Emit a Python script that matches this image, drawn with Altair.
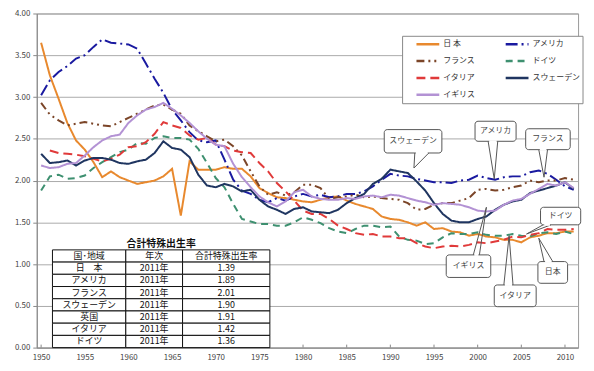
import altair as alt
import pandas as pd

FONT = "Noto Sans CJK JP"

years = list(range(1950, 2012))

japan = [3.65, 3.26, 2.98, 2.69, 2.48, 2.37, 2.22, 2.04, 2.11, 2.04,
         2.00, 1.96, 1.98, 2.00, 2.05, 2.14, 1.58, 2.23, 2.13, 2.13,
         2.13, 2.16, 2.14, 2.14, 2.05, 1.91, 1.85, 1.80, 1.79, 1.77,
         1.75, 1.74, 1.77, 1.80, 1.81, 1.76, 1.72, 1.69, 1.66, 1.57,
         1.54, 1.53, 1.50, 1.46, 1.50, 1.42, 1.43, 1.39, 1.38, 1.34,
         1.36, 1.33, 1.32, 1.29, 1.29, 1.26, 1.32, 1.34, 1.37, 1.37,
         1.39, 1.39]
usa = [3.02, 3.20, 3.30, 3.37, 3.46, 3.50, 3.60, 3.69, 3.65, 3.64,
       3.63, 3.58, 3.40, 3.22, 3.05, 2.85, 2.72, 2.58, 2.48, 2.46,
       2.48, 2.25, 2.01, 1.88, 1.84, 1.77, 1.74, 1.79, 1.76, 1.81,
       1.84, 1.81, 1.83, 1.80, 1.81, 1.84, 1.84, 1.87, 1.93, 2.01,
       2.08, 2.06, 2.05, 2.02, 2.00, 1.98, 1.98, 1.97, 2.00, 2.01,
       2.06, 2.03, 2.01, 2.04, 2.05, 2.05, 2.10, 2.12, 2.08, 2.01,
       1.93, 1.89]
france = [2.93, 2.79, 2.72, 2.66, 2.68, 2.70, 2.68, 2.66, 2.65, 2.70,
          2.75, 2.80, 2.85, 2.90, 2.91, 2.85, 2.80, 2.66, 2.59, 2.53,
          2.47, 2.49, 2.41, 2.30, 2.11, 1.93, 1.83, 1.86, 1.82, 1.86,
          1.95, 1.95, 1.91, 1.78, 1.80, 1.81, 1.83, 1.80, 1.81, 1.79,
          1.78, 1.77, 1.73, 1.65, 1.66, 1.71, 1.73, 1.73, 1.76, 1.79,
          1.89, 1.90, 1.88, 1.89, 1.92, 1.94, 2.00, 1.98, 2.00, 2.00,
          2.03, 2.01]
germany = [1.88, 2.05, 2.07, 2.02, 2.03, 2.06, 2.15, 2.22, 2.28, 2.34,
           2.37, 2.45, 2.44, 2.51, 2.53, 2.51, 2.51, 2.49, 2.38, 2.21,
           2.03, 1.92, 1.72, 1.54, 1.51, 1.48, 1.48, 1.46, 1.46, 1.50,
           1.56, 1.53, 1.49, 1.43, 1.39, 1.37, 1.42, 1.46, 1.46, 1.44,
           1.45, 1.33, 1.29, 1.28, 1.24, 1.25, 1.32, 1.37, 1.36, 1.36,
           1.38, 1.35, 1.34, 1.34, 1.36, 1.34, 1.33, 1.37, 1.38, 1.36,
           1.39, 1.36]
italy = [None, 2.36, 2.33, 2.32, 2.31, 2.29, 2.26, 2.23, 2.26, 2.31,
         2.40, 2.41, 2.46, 2.56, 2.70, 2.66, 2.63, 2.54, 2.49, 2.51,
         2.43, 2.41, 2.36, 2.34, 2.33, 2.21, 2.11, 1.97, 1.87, 1.76,
         1.64, 1.60, 1.60, 1.54, 1.46, 1.42, 1.37, 1.35, 1.36, 1.33,
         1.33, 1.31, 1.31, 1.25, 1.21, 1.19, 1.21, 1.22, 1.21, 1.23,
         1.26, 1.25, 1.27, 1.29, 1.33, 1.32, 1.35, 1.37, 1.42, 1.41,
         1.41, 1.42]
sweden = [2.32, 2.21, 2.22, 2.24, 2.18, 2.24, 2.27, 2.27, 2.25, 2.21,
          2.20, 2.23, 2.25, 2.33, 2.47, 2.39, 2.37, 2.28, 2.07, 1.94,
          1.92, 1.96, 1.93, 1.87, 1.89, 1.77, 1.69, 1.65, 1.60, 1.66,
          1.68, 1.63, 1.62, 1.61, 1.65, 1.73, 1.79, 1.84, 1.96, 2.02,
          2.13, 2.11, 2.09, 1.99, 1.88, 1.73, 1.60, 1.52, 1.50, 1.50,
          1.54, 1.57, 1.65, 1.71, 1.75, 1.77, 1.85, 1.88, 1.91, 1.94,
          1.98, 1.90]
uk = [2.18, 2.15, 2.16, 2.20, 2.21, 2.30, 2.40, 2.48, 2.53, 2.55,
      2.69, 2.78, 2.85, 2.88, 2.93, 2.86, 2.78, 2.69, 2.59, 2.50,
      2.43, 2.41, 2.20, 2.04, 1.92, 1.81, 1.74, 1.69, 1.75, 1.86,
      1.89, 1.81, 1.78, 1.77, 1.77, 1.79, 1.78, 1.81, 1.82, 1.80,
      1.83, 1.82, 1.79, 1.76, 1.74, 1.71, 1.73, 1.72, 1.71, 1.68,
      1.64, 1.63, 1.64, 1.71, 1.76, 1.78, 1.84, 1.90, 1.96, 1.94,
      1.98, 1.91]

series_names = ["日 本", "アメリカ", "フランス", "ドイツ", "イタリア", "スウェーデン", "イギリス"]
series_values = [japan, usa, france, germany, italy, sweden, uk]
series_colors = ["#E8892E", "#1A1AA0", "#7B4528", "#3E9070", "#E03A3A", "#1F3560", "#B392D4"]
series_dashes = [[1, 0], [12, 4, 2, 4], [8, 4, 2, 4, 2, 4], [7, 5], [9, 5], [1, 0], [1, 0]]

x_tick_years = list(range(1950, 2011, 5))
y_tick_values = [i * 0.5 for i in range(9)]

# table contents
table_title = "合計特殊出生率"
table_header = ["国･地域", "年次", "合計特殊出生率"]
table_regions = ["日　本", "アメリカ", "フランス", "スウェーデン", "英国", "イタリア", "ドイツ"]
table_years = ["2011年"] * 7
table_rates = ["1.39", "1.89", "2.01", "1.90", "1.91", "1.42", "1.36"]

# callout labels
callout_labels = ["スウェーデン", "アメリカ", "フランス", "イギリス", "イタリア", "日本", "ドイツ"]

# ---- layout ----
W, H = 546, 337
XDOM = (1949.5, 2011.5)
YDOM = (0.0, 4.0)


def px_x(px):
    """plot-area pixel (from left) -> year on the x scale"""
    return XDOM[0] + px / W * (XDOM[1] - XDOM[0])


def px_y(py):
    """plot-area pixel (from top) -> value on the y scale"""
    return YDOM[1] - py / H * (YDOM[1] - YDOM[0])


table_col_edges = [1951.3, 1959.7, 1966.2, 1976.2]
table_top = 1.17
table_row_h = 1.17 / 8
table_title_pos = (1963.75, 1.245)

# box x1, x2, y_low, y_high, base1 x, base2 x, base y, tip x, tip y
callout_geom = [
    (1989.3, 1995.9, 2.33, 2.61, 1992.8, 1994.4, 2.33, 1992.7, 2.15),
    (1999.7, 2004.4, 2.47, 2.71, 2001.2, 2002.3, 2.47, 2001.9, 2.02),
    (2005.5, 2010.6, 2.37, 2.62, 2007.0, 2008.0, 2.37, 2007.6, 2.04),
    (1996.4, 2001.5, 0.84, 1.11, 1999.5, 2000.2, 1.11, 2001.0, 1.68),
    (2001.9, 2006.7, 0.49, 0.75, 2003.0, 2004.05, 0.75, 2003.6, 1.34),
    (2006.9, 2010.3, 0.77, 1.03, 2007.6, 2008.6, 1.03, 2007.0, 1.31),
    (2007.2, 2011.8, 1.47, 1.68, 2007.5, 2008.4, 1.47, 2005.6, 1.36),
]

# legend box and entries (plot-area pixels)
LEG_BOX = (369, 551, 23, 91)
LEG_X0, LEG_COL_DX, LEG_Y0, LEG_ROW_DY, LEG_LINE_LEN, LEG_TXT_GAP = 383, 90, 31, 17, 23, 4
INNER_TICK = 3

# ---- build frames ----
line_rows = []
for name, vals in zip(series_names, series_values):
    for yr, v in zip(years, vals):
        if v is not None:
            line_rows.append({"year": yr, "rate": v, "country": name})
df_lines = pd.DataFrame(line_rows)

cells = []
all_rows = [table_header] + [[r, y, t] for r, y, t in zip(table_regions, table_years, table_rates)]
for ri, row in enumerate(all_rows):
    for ci, txt in enumerate(row):
        y_hi = table_top - ri * table_row_h
        y_lo = y_hi - table_row_h
        cells.append({
            "x1": table_col_edges[ci], "x2": table_col_edges[ci + 1],
            "y1": y_lo, "y2": y_hi,
            "xm": (table_col_edges[ci] + table_col_edges[ci + 1]) / 2,
            "ym": (y_lo + y_hi) / 2, "text": txt,
        })
df_cells = pd.DataFrame(cells)
df_title = pd.DataFrame([{"x": table_title_pos[0], "y": table_title_pos[1], "text": table_title}])

boxes, tails, gaps = [], [], []
for lab, g in zip(callout_labels, callout_geom):
    bx1, bx2, by1, by2, b1, b2, by, tx, ty = g
    boxes.append({"x1": bx1, "x2": bx2, "y1": by1, "y2": by2,
                  "xm": (bx1 + bx2) / 2, "ym": (by1 + by2) / 2, "text": lab})
    tails.append({"xa": b1, "ya": by, "xb": tx, "yb": ty})
    tails.append({"xa": b2, "ya": by, "xb": tx, "yb": ty})
    gaps.append({"xa": b1 + 0.12, "ya": by, "xb": b2 - 0.12, "yb": by})
df_boxes = pd.DataFrame(boxes)
df_tails = pd.DataFrame(tails)
df_gaps = pd.DataFrame(gaps)

df_legbox = pd.DataFrame([{"x1": px_x(LEG_BOX[0]), "x2": px_x(LEG_BOX[1]),
                           "y1": px_y(LEG_BOX[3]), "y2": px_y(LEG_BOX[2])}])
leg_rows = []
for i, name in enumerate(series_names):
    col, row = i % 2, i // 2
    x0 = LEG_X0 + col * LEG_COL_DX
    y0 = LEG_Y0 + row * LEG_ROW_DY
    leg_rows.append({"country": name, "xa": px_x(x0), "xb": px_x(x0 + LEG_LINE_LEN),
                     "xt": px_x(x0 + LEG_LINE_LEN + LEG_TXT_GAP), "y": px_y(y0)})
df_leg = pd.DataFrame(leg_rows)

df_xticks = pd.DataFrame({"year": x_tick_years, "y0": 0.0, "y1": px_y(H - INNER_TICK)})

# ---- chart ----
xscale = alt.Scale(domain=list(XDOM), nice=False, zero=False)
yscale = alt.Scale(domain=list(YDOM), nice=False, zero=True)
cscale = alt.Scale(domain=series_names, range=series_colors)
dscale = alt.Scale(domain=series_names, range=series_dashes)

lines = alt.Chart(df_lines).mark_line(strokeWidth=2).encode(
    x=alt.X("year:Q", scale=xscale, title=None,
            axis=alt.Axis(values=x_tick_years, format="d", labelFlush=False,
                          grid=False, ticks=False, labelPadding=6)),
    y=alt.Y("rate:Q", scale=yscale, title=None,
            axis=alt.Axis(values=y_tick_values, format=".2f", grid=True,
                          tickSize=4, labelPadding=3)),
    color=alt.Color("country:N", scale=cscale, legend=None),
    strokeDash=alt.StrokeDash("country:N", scale=dscale, legend=None),
)

xticks = alt.Chart(df_xticks).mark_rule(stroke="#888", strokeWidth=1).encode(
    x=alt.X("year:Q", title=None), y=alt.Y("y0:Q", title=None), y2="y1:Q")

table_rects = alt.Chart(df_cells).mark_rect(fill="white", stroke="#111", strokeWidth=1).encode(
    x=alt.X("x1:Q", title=None), x2="x2:Q", y=alt.Y("y1:Q", title=None), y2="y2:Q")
table_text = alt.Chart(df_cells).mark_text(font=FONT, fontSize=9, color="#111").encode(
    x=alt.X("xm:Q", title=None), y=alt.Y("ym:Q", title=None), text="text:N")
title_text = alt.Chart(df_title).mark_text(font=FONT, fontSize=10, color="#111", fontWeight="bold").encode(
    x=alt.X("x:Q", title=None), y=alt.Y("y:Q", title=None), text="text:N")

tail_rules = alt.Chart(df_tails).mark_rule(stroke="#555", strokeWidth=1).encode(
    x=alt.X("xa:Q", title=None), y=alt.Y("ya:Q", title=None), x2="xb:Q", y2="yb:Q")
box_rects = alt.Chart(df_boxes).mark_rect(fill="white", stroke="#555", strokeWidth=1, cornerRadius=3).encode(
    x=alt.X("x1:Q", title=None), x2="x2:Q", y=alt.Y("y1:Q", title=None), y2="y2:Q")
gap_rules = alt.Chart(df_gaps).mark_rule(stroke="white", strokeWidth=2).encode(
    x=alt.X("xa:Q", title=None), y=alt.Y("ya:Q", title=None), x2="xb:Q", y2="yb:Q")
box_text = alt.Chart(df_boxes).mark_text(font=FONT, fontSize=8, color="#444").encode(
    x=alt.X("xm:Q", title=None), y=alt.Y("ym:Q", title=None), text="text:N")

leg_box = alt.Chart(df_legbox).mark_rect(fill="white", stroke="#888", strokeWidth=1).encode(
    x=alt.X("x1:Q", title=None), x2="x2:Q", y=alt.Y("y1:Q", title=None), y2="y2:Q")
leg_lines = alt.Chart(df_leg).mark_rule(strokeWidth=2.5).encode(
    x=alt.X("xa:Q", title=None), x2="xb:Q", y=alt.Y("y:Q", title=None),
    color=alt.Color("country:N", scale=cscale, legend=None),
    strokeDash=alt.StrokeDash("country:N", scale=dscale, legend=None))
leg_text = alt.Chart(df_leg).mark_text(font=FONT, fontSize=8, color="#333", align="left").encode(
    x=alt.X("xt:Q", title=None), y=alt.Y("y:Q", title=None), text="country:N")

chart = alt.layer(
    lines, xticks, table_rects, table_text, title_text, tail_rules, box_rects, gap_rules, box_text,
    leg_box, leg_lines, leg_text
).properties(
    width=W, height=H,
    autosize=alt.AutoSizeParams(type="none"),
    padding={"left": 29, "top": 4, "right": 8, "bottom": 16},
).configure_view(
    stroke="#999", strokeWidth=1
).configure_axis(
    labelFont=FONT, labelFontSize=8, labelColor="#444",
    domainColor="#888", tickColor="#888", gridColor="#aaa", gridWidth=1,
)

chart.save("out.html", embed_options={"renderer": "svg", "actions": False})
